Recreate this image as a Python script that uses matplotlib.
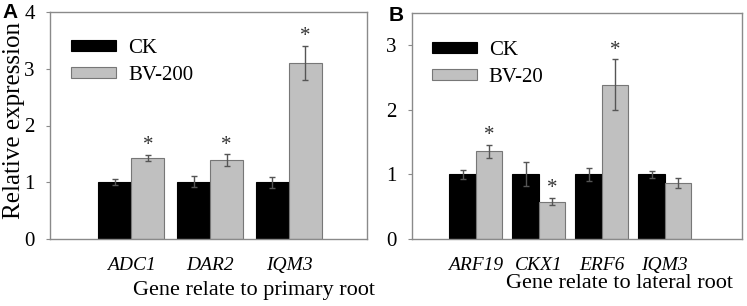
import matplotlib
matplotlib.use('Agg')
import matplotlib.pyplot as plt
import numpy as np

plt.rcParams['font.family'] = ['Liberation Serif', 'DejaVu Serif']

# panel A: genes related to primary root
genes_a = ['ADC1', 'DAR2', 'IQM3']
ck_a = [1.00, 1.01, 1.00]
ck_a_err = [0.05, 0.10, 0.10]
bv_a = [1.43, 1.39, 3.10]
bv_a_err = [0.05, 0.10, 0.30]
sig_a = [True, True, True]

# panel B: genes related to lateral root
genes_b = ['ARF19', 'CKX1', 'ERF6', 'IQM3']
ck_b = [1.00, 1.01, 1.00, 1.00]
ck_b_err = [0.07, 0.19, 0.10, 0.06]
bv_b = [1.36, 0.58, 2.39, 0.87]
bv_b_err = [0.10, 0.05, 0.39, 0.08]
sig_b = [True, True, True, False]

W, H = 747, 306
fig = plt.figure(figsize=(W / 100, H / 100), dpi=100)

FRAME = '#8a8a8a'
GRAY = '#c0c0c0'
ERRC = '#555555'


def draw_panel(ax, genes, ck, ck_err, bv, bv_err, sig, label_bv, xlim, ylim,
               yticks, xlabel, xlab_pos, leg_anchor):
    x = np.arange(1, len(genes) + 1)
    w = 0.42
    ax.bar(x - w / 2, ck, w, color='black', edgecolor='black', linewidth=0.8,
           label='CK', zorder=2)
    ax.bar(x + w / 2, bv, w, color=GRAY, edgecolor='#777777', linewidth=0.8,
           label=label_bv, zorder=2)
    ekw = dict(fmt='none', ecolor=ERRC, elinewidth=1, capsize=2.5,
               capthick=1, zorder=3)
    ax.errorbar(x - w / 2, ck, yerr=ck_err, **ekw)
    ax.errorbar(x + w / 2, bv, yerr=bv_err, **ekw)

    # significance stars above the treated bars
    for xi, v, e, s in zip(x + w / 2, bv, bv_err, sig):
        if s:
            ax.annotate('*', (xi, v + e), xytext=(0, 3.5),
                        textcoords='offset points', ha='center',
                        va='baseline', fontsize=15, color='#333333')

    ax.set_xlim(*xlim)
    ax.set_ylim(*ylim)
    ax.set_yticks(yticks)
    ax.set_yticklabels([str(t) for t in yticks], fontsize=15)
    ax.set_xticks(x)
    ax.set_xticklabels(genes, fontsize=14, style='italic')
    ax.tick_params(axis='x', length=0, pad=13)
    ax.tick_params(axis='y', length=3, width=0.8, color=FRAME, pad=8,
                   direction='out')
    for sp in ax.spines.values():
        sp.set_color(FRAME)
        sp.set_linewidth(1)

    ax.set_xlabel(xlabel, fontsize=16)
    ax.xaxis.set_label_coords(*xlab_pos)

    ax.legend(loc='upper left', bbox_to_anchor=leg_anchor, frameon=False,
              fontsize=15, handlelength=2.2, handleheight=0.45,
              handletextpad=0.55, labelspacing=0.35, borderpad=0,
              borderaxespad=0)


ax_a = fig.add_axes([50 / W, 1 - 239 / H, 317 / W, 227 / H])
draw_panel(ax_a, genes_a, ck_a, ck_a_err, bv_a, bv_a_err, sig_a, 'BV-200',
           (-0.03, 3.99), (0, 4), [0, 1, 2, 3, 4],
           'Gene relate to primary root', (0.645, -0.185), (0.065, 0.88))
ax_a.set_ylabel('Relative expression', fontsize=18)
ax_a.yaxis.set_label_coords(-0.08, 0.52)

ax_b = fig.add_axes([411.7 / W, 1 - 239 / H, 330 / W, 226 / H])
draw_panel(ax_b, genes_b, ck_b, ck_b_err, bv_b, bv_b_err, sig_b, 'BV-20',
           (-0.02, 5.22), (0, 3.5), [0, 1, 2, 3],
           'Gene relate to lateral root', (0.631, -0.155), (0.06, 0.875))

fig.text(2 / W, 1 - 3 / H, 'A', fontsize=15, fontweight='bold',
         family='Liberation Sans', ha='left', va='top')
fig.text(389 / W, 1 - 6 / H, 'B', fontsize=15, fontweight='bold',
         family='Liberation Sans', ha='left', va='top')

fig.savefig('out.png', dpi=100)
